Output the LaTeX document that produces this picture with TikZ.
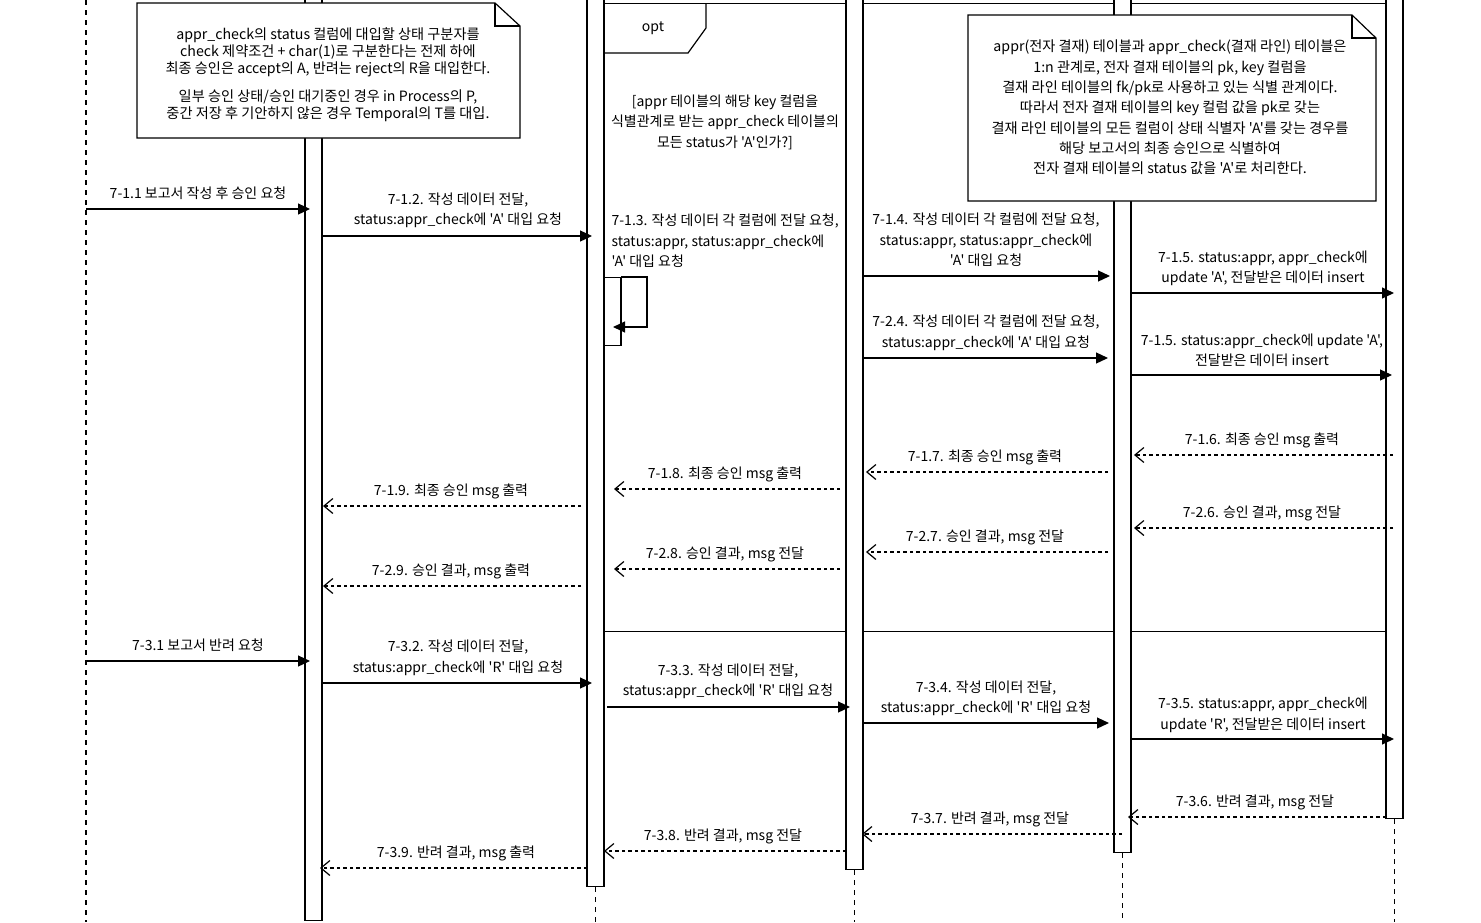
\documentclass[tikz,border=0pt]{standalone}
\usepackage{fontspec}
\setmainfont{Noto Sans CJK KR}[Ligatures=TeXOff]
\usetikzlibrary{arrows.meta}
\begin{document}
\begin{tikzpicture}[x=1pt,y=-1pt,line width=1.2pt,
  lbl/.style={font=\fontsize{14}{20.5}\selectfont,align=center,inner sep=0pt},
  notetxt/.style={font=\fontsize{14.2}{17}\selectfont,align=center,inner sep=0pt},
  act/.style={draw,fill=white,line width=1.2pt,minimum width=17pt,inner sep=0pt,anchor=north},
  call/.style={-{Triangle[length=12pt,width=11pt]}},
  ret/.style={dash pattern=on 3.5pt off 3pt,-{Straight Barb[length=9pt,width=15pt]}},
  life/.style={dash pattern=on 5pt off 5pt,line width=1.2pt},
  notebox/.style={draw,fill=white,line width=1.2pt,line join=miter}]
\useasboundingbox (0,0) rectangle (1481,922);
\clip (0,0) rectangle (1481,922);

% left lifeline
\coordinate (L0t) at (86,0);
\coordinate (L0b) at (86,922);
\draw[life] (L0t) -- (L0b);

% opt frame
\node[draw,line width=1.2pt,minimum width=782pt,minimum height=628pt,inner sep=0pt,anchor=north west] (opt) at (604,3) {};
\draw (opt.north west) ++(0,50) -- ++(84,0) -- ++(18,-25) -- ++(0,-25);
\node[lbl] (optlbl) at (653,28.5) {opt};
\node[lbl] (guard) at (725,122) {[appr 테이블의 해당 key 컬럼을\\식별관계로 받는 appr\_check 테이블의\\모든 status가 'A'인가?]};

% activation boxes
\node[act,minimum height=925pt] (A1) at (313.5,-5) {};
\node[act,minimum height=891pt] (A2) at (595.5,-5) {};
\node[act,minimum height=874pt] (A3) at (854.5,-5) {};
\node[act,minimum height=857pt] (A4) at (1122.5,-5) {};
\node[act,minimum height=823pt] (A5) at (1394.5,-5) {};
\node[act,minimum height=68pt] (A2b) at (612.5,277) {};

% lifelines below activations
\draw[life] (A2.south) -- (A2.south |- L0b);
\draw[life] (A3.south) -- (A3.south |- L0b);
\draw[life] (A4.south) -- (A4.south |- L0b);
\draw[life] (A5.south) -- (A5.south |- L0b);

% notes
\draw[notebox] (137,3) -- (495,3) -- (520,26) -- (520,138) -- (137,138) -- cycle;
\draw (495,3) -- (495,26) -- (520,26);
\node[notetxt] (note1) at (328,74.5) {appr\_check의 status 컬럼에 대입할 상태 구분자를\\check 제약조건 + char(1)로 구분한다는 전제 하에\\최종 승인은 accept의 A, 반려는 reject의 R을 대입한다.\\[11pt]일부 승인 상태/승인 대기중인 경우 in Process의 P,\\중간 저장 후 기안하지 않은 경우 Temporal의 T를 대입.};

\draw[notebox] (968,15) -- (1352,15) -- (1376,38) -- (1376,201) -- (968,201) -- cycle;
\draw (1352,15) -- (1352,38) -- (1376,38);
\node[lbl,font=\fontsize{14.2}{20.3}\selectfont] (note2) at (1170,107.5) {appr(전자 결재) 테이블과 appr\_check(결재 라인) 테이블은\\1:n 관계로, 전자 결재 테이블의 pk, key 컬럼을\\결재 라인 테이블의 fk/pk로 사용하고 있는 식별 관계이다.\\따라서 전자 결재 테이블의 key 컬럼 값을 pk로 갖는\\결재 라인 테이블의 모든 컬럼이 상태 식별자 'A'를 갖는 경우를\\해당 보고서의 최종 승인으로 식별하여\\전자 결재 테이블의 status 값을 'A'로 처리한다.};

% ---- messages 7-1 ----
\coordinate (m11s) at (86,209);   \coordinate (m11e) at (310,209);
\draw[call] (m11s) -- (m11e);
\node[lbl] (l11) at (198,193.5) {7-1.1 보고서 작성 후 승인 요청};

\coordinate (m12s) at (322,236);  \coordinate (m12e) at (592,236);
\draw[call] (m12s) -- (m12e);
\node[lbl] (l12) at (458,210.5) {7-1.2. 작성 데이터 전달,\\status:appr\_check에 'A' 대입 요청};

\coordinate (m13s) at (621,277);  \coordinate (m13e) at (613,327);
\draw[call] (m13s) -- (647,277) -- (647,327) -- (m13e);
\node[lbl,align=left,anchor=west] (l13) at (611,241) {7-1.3. 작성 데이터 각 컬럼에 전달 요청,\\status:appr, status:appr\_check에\\'A' 대입 요청};

\coordinate (m14s) at (863,276);  \coordinate (m14e) at (1110,276);
\draw[call] (m14s) -- (m14e);
\node[lbl] (l14) at (986,240) {7-1.4. 작성 데이터 각 컬럼에 전달 요청,\\status:appr, status:appr\_check에\\'A' 대입 요청};

\coordinate (m15s) at (1131,293); \coordinate (m15e) at (1394,293);
\draw[call] (m15s) -- (m15e);
\node[lbl] (l15) at (1263,268.5) {7-1.5. status:appr, appr\_check에\\update 'A', 전달받은 데이터 insert};

\coordinate (m24s) at (863,358);  \coordinate (m24e) at (1108,358);
\draw[call] (m24s) -- (m24e);
\node[lbl] (l24) at (986,333) {7-2.4. 작성 데이터 각 컬럼에 전달 요청,\\status:appr\_check에 'A' 대입 요청};

\coordinate (m25s) at (1131,375); \coordinate (m25e) at (1392,375);
\draw[call] (m25s) -- (m25e);
\node[lbl] (l25) at (1262,350.5) {7-1.5. status:appr\_check에 update 'A',\\전달받은 데이터 insert};

% returns
\coordinate (m16s) at (1393,455); \coordinate (m16e) at (1134,455);
\draw[ret] (m16s) -- (m16e);
\node[lbl] (l16) at (1262,440.5) {7-1.6. 최종 승인 msg 출력};

\coordinate (m17s) at (1108,472); \coordinate (m17e) at (866,472);
\draw[ret] (m17s) -- (m17e);
\node[lbl] (l17) at (985,457.5) {7-1.7. 최종 승인 msg 출력};

\coordinate (m18s) at (840,489);  \coordinate (m18e) at (614,489);
\draw[ret] (m18s) -- (m18e);
\node[lbl] (l18) at (725,474.5) {7-1.8. 최종 승인 msg 출력};

\coordinate (m19s) at (581,506);  \coordinate (m19e) at (323,506);
\draw[ret] (m19s) -- (m19e);
\node[lbl] (l19) at (451,491.5) {7-1.9. 최종 승인 msg 출력};

\coordinate (m26s) at (1393,528); \coordinate (m26e) at (1134,528);
\draw[ret] (m26s) -- (m26e);
\node[lbl] (l26) at (1262,513.5) {7-2.6. 승인 결과, msg 전달};

\coordinate (m27s) at (1108,552); \coordinate (m27e) at (866,552);
\draw[ret] (m27s) -- (m27e);
\node[lbl] (l27) at (985,537.5) {7-2.7. 승인 결과, msg 전달};

\coordinate (m28s) at (840,569);  \coordinate (m28e) at (614,569);
\draw[ret] (m28s) -- (m28e);
\node[lbl] (l28) at (725,554.5) {7-2.8. 승인 결과, msg 전달};

\coordinate (m29s) at (581,586);  \coordinate (m29e) at (323,586);
\draw[ret] (m29s) -- (m29e);
\node[lbl] (l29) at (451,571.5) {7-2.9. 승인 결과, msg 출력};

% ---- messages 7-3 ----
\coordinate (m31s) at (86,661);   \coordinate (m31e) at (310,661);
\draw[call] (m31s) -- (m31e);
\node[lbl] (l31) at (198,645.5) {7-3.1 보고서 반려 요청};

\coordinate (m32s) at (322,683);  \coordinate (m32e) at (592,683);
\draw[call] (m32s) -- (m32e);
\node[lbl] (l32) at (458,658) {7-3.2. 작성 데이터 전달,\\status:appr\_check에 'R' 대입 요청};

\coordinate (m33s) at (607,707);  \coordinate (m33e) at (850,707);
\draw[call] (m33s) -- (m33e);
\node[lbl] (l33) at (728,681.5) {7-3.3. 작성 데이터 전달,\\status:appr\_check에 'R' 대입 요청};

\coordinate (m34s) at (863,723);  \coordinate (m34e) at (1109,723);
\draw[call] (m34s) -- (m34e);
\node[lbl] (l34) at (986,698.5) {7-3.4. 작성 데이터 전달,\\status:appr\_check에 'R' 대입 요청};

\coordinate (m35s) at (1131,739); \coordinate (m35e) at (1394,739);
\draw[call] (m35s) -- (m35e);
\node[lbl] (l35) at (1263,715) {7-3.5. status:appr, appr\_check에\\update 'R', 전달받은 데이터 insert};

\coordinate (m36s) at (1386,817); \coordinate (m36e) at (1128,817);
\draw[ret] (m36s) -- (m36e);
\node[lbl] (l36) at (1255,802.5) {7-3.6. 반려 결과, msg 전달};

\coordinate (m37s) at (1122,834); \coordinate (m37e) at (862,834);
\draw[ret] (m37s) -- (m37e);
\node[lbl] (l37) at (990,819.5) {7-3.7. 반려 결과, msg 전달};

\coordinate (m38s) at (846,851);  \coordinate (m38e) at (604,851);
\draw[ret] (m38s) -- (m38e);
\node[lbl] (l38) at (723,836.5) {7-3.8. 반려 결과, msg 전달};

\coordinate (m39s) at (587,868);  \coordinate (m39e) at (320,868);
\draw[ret] (m39s) -- (m39e);
\node[lbl] (l39) at (456,853.5) {7-3.9. 반려 결과, msg 출력};
\end{tikzpicture}
\end{document}
